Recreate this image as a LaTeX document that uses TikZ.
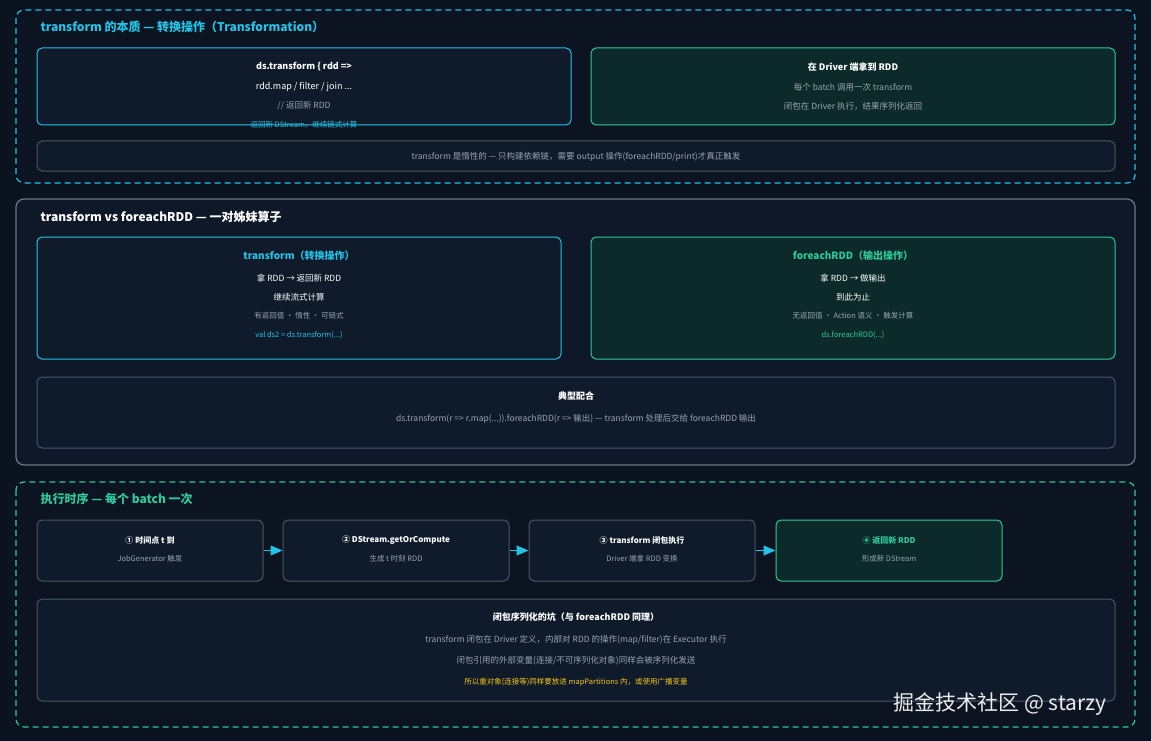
\documentclass[tikz,border=0pt]{standalone}
\usepackage{fontspec}
\setmainfont{Noto Sans CJK SC}
\usetikzlibrary{arrows.meta,positioning}
\definecolor{bgc}{HTML}{0B1220}
\definecolor{cyanc}{HTML}{22C3E6}
\definecolor{greenc}{HTML}{2EC99A}
\definecolor{grayc}{HTML}{4A5568}
\definecolor{boxc}{HTML}{0F1B2B}
\definecolor{gboxc}{HTML}{0C2A2A}
\definecolor{txtc}{HTML}{9AA4B2}
\definecolor{yelc}{HTML}{F5C518}
\tikzset{
  x=1pt, y=-1pt,
  panel/.style={rounded corners=8pt, line width=1.2pt},
  card/.style={draw, rounded corners=5pt, line width=1pt, fill=boxc},
  ttl/.style={anchor=west, font=\bfseries\fontsize{12}{14}\selectfont},
  hd/.style={text=white, font=\bfseries\fontsize{9}{11}\selectfont},
  tx/.style={text=txtc, font=\fontsize{8.5}{10}\selectfont},
  sm/.style={font=\fontsize{7.5}{9}\selectfont},
  stepbox/.style={card, draw=grayc, minimum width=226pt, minimum height=61pt},
  flow/.style={-{Triangle[length=12pt,width=10pt]}, draw=cyanc, line width=1pt},
}
\begin{document}
\begin{tikzpicture}
\fill[bgc] (0,0) rectangle (1151,741);
% first panel
\draw[panel, cyanc, dashed, dash pattern=on 6pt off 4pt, fill=bgc!80!boxc] (16,10) rectangle (1135,183);
\node[ttl, text=cyanc] (t1) at (37,27) {transform 的本质 — 转换操作（Transformation）};
\draw[card, draw=cyanc] (37,48) rectangle (571,125);
\node[hd] (a1) at (304,67) {ds.transform \{ rdd =>};
\node[hd, font=\fontsize{9}{11}\selectfont] (a2) at (304,87) {rdd.map / filter / join ...};
\node[tx] (a3) at (304,106) {// 返回新 RDD};
\node[tx, sm, text=cyanc] (a4) at (304,125) {返回新 DStream，继续链式计算};
\draw[card, draw=greenc, fill=gboxc] (591,48) rectangle (1115,125);
\node[hd] (b1) at (853,67) {在 Driver 端拿到 RDD};
\node[tx] (b2) at (853,87) {每个 batch 调用一次 transform};
\node[tx] (b3) at (853,106) {闭包在 Driver 执行，结果序列化返回};
\draw[card, draw=grayc] (37,141) rectangle (1115,171);
\node[tx] (c1) at (576,157) {transform 是惰性的 — 只构建依赖链，需要 output 操作(foreachRDD/print)才真正触发};
% second panel
\draw[panel, grayc!80!white, fill=boxc!70!bgc] (16,199) rectangle (1135,465);
\node[ttl, text=white] (t2) at (37,217) {transform vs foreachRDD — 一对姊妹算子};
\draw[card, draw=cyanc] (37,237) rectangle (561,359);
\node[hd, text=cyanc, font=\bfseries\fontsize{10}{12}\selectfont] (d1) at (299,256) {transform（转换操作）};
\node[hd, font=\fontsize{8.5}{10}\selectfont] (d2) at (299,278) {拿 RDD → 返回新 RDD};
\node[hd, font=\fontsize{8.5}{10}\selectfont] (d3) at (299,297) {继续流式计算};
\node[tx, sm] (d4) at (299,316) {有返回值 · 惰性 · 可链式};
\node[tx, sm, text=cyanc] (d5) at (299,335) {val ds2 = ds.transform(...)};
\draw[card, draw=greenc, fill=gboxc] (591,237) rectangle (1115,359);
\node[hd, text=greenc, font=\bfseries\fontsize{10}{12}\selectfont] (e1) at (853,256) {foreachRDD（输出操作）};
\node[hd, font=\fontsize{8.5}{10}\selectfont] (e2) at (853,278) {拿 RDD → 做输出};
\node[hd, font=\fontsize{8.5}{10}\selectfont] (e3) at (853,297) {到此为止};
\node[tx, sm] (e4) at (853,316) {无返回值 · Action 语义 · 触发计算};
\node[tx, sm, text=greenc] (e5) at (853,335) {ds.foreachRDD(...)};
\draw[card, draw=grayc] (37,377) rectangle (1115,448);
\node[hd] (f1) at (576,396) {典型配合};
\node[tx] (f2) at (576,419) {ds.transform(r => r.map(...)).foreachRDD(r => 输出) — transform 处理后交给 foreachRDD 输出};
% third panel
\draw[panel, greenc, dashed, dash pattern=on 6pt off 4pt, fill=bgc!80!boxc] (16,482) rectangle (1135,727);
\node[ttl, text=greenc] (t3) at (37,499) {执行时序 — 每个 batch 一次};
\node[stepbox] (s1) at (150,550.5) {};
\node[stepbox] (s2) at (396,550.5) {};
\node[stepbox] (s3) at (642,550.5) {};
\node[stepbox, draw=greenc, fill=gboxc] (s4) at (889,550.5) {};
\node[hd, font=\bfseries\fontsize{8}{10}\selectfont] (s1h) at (150,540) {① 时间点 t 到};
\node[tx, sm] (s1t) at (150,559) {JobGenerator 触发};
\node[hd, font=\bfseries\fontsize{8}{10}\selectfont] (s2h) at (396,540) {② DStream.getOrCompute};
\node[tx, sm] (s2t) at (396,559) {生成 t 时刻 RDD};
\node[hd, font=\bfseries\fontsize{8}{10}\selectfont] (s3h) at (642,540) {③ transform 闭包执行};
\node[tx, sm] (s3t) at (642,559) {Driver 端拿 RDD 变换};
\node[hd, text=greenc, font=\bfseries\fontsize{8}{10}\selectfont] (s4h) at (889,540) {④ 返回新 RDD};
\node[tx, sm] (s4t) at (889,559) {形成新 DStream};
\foreach \a/\b in {s1/s2, s2/s3, s3/s4}
  \draw[flow] (\a) -- (\b);
\draw[card, draw=grayc] (37,599) rectangle (1115,701);
\node[hd] (g1) at (576,617) {闭包序列化的坑（与 foreachRDD 同理）};
\node[tx] (g2) at (576,640) {transform 闭包在 Driver 定义，内部对 RDD 的操作(map/filter)在 Executor 执行};
\node[tx] (g3) at (576,661) {闭包引用的外部变量(连接/不可序列化对象)同样会被序列化发送};
\node[tx, sm, text=yelc] (g4) at (576,682) {所以重对象(连接等)同样要放进 mapPartitions 内，或使用广播变量};
% watermark
\node[text=white!85!gray, font=\fontsize{21}{24}\selectfont] (wm) at (1000,704) {掘金技术社区 @ starzy};
\end{tikzpicture}
\end{document}
